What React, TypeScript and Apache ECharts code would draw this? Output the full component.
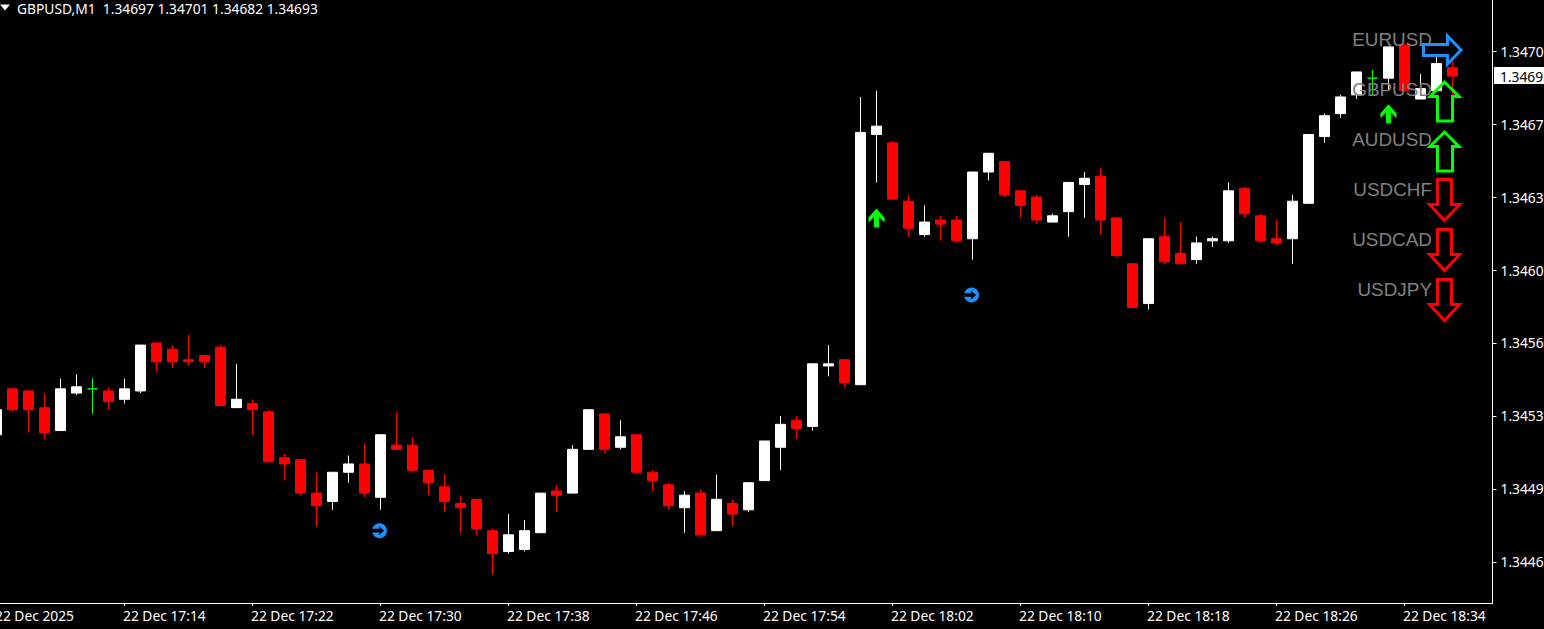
import React, { useEffect, useRef } from "react";
import * as echarts from "echarts";

const headerText = "GBPUSD,M1  1.34697 1.34701 1.34682 1.34693";
const currentPriceLabel = "1.3469";

const opens = [1.34521,1.34543,1.34542,1.34534,1.34523,1.34541,1.34543,1.34542,1.34538,1.34542,1.34565,1.34562,1.34557,1.34559,1.34563,1.34534,1.34536,1.34532,1.34510,1.34509,1.34493,1.34489,1.34503,1.34507,1.34491,1.34516,1.34516,1.34504,1.34496,1.34488,1.34490,1.34475,1.34465,1.34466,1.34474,1.34494,1.34493,1.34514,1.34531,1.34515,1.34521,1.34503,1.34497,1.34486,1.34493,1.34475,1.34488,1.34485,1.34499,1.34515,1.34528,1.34525,1.34554,1.34557,1.34545,1.34665,1.34661,1.34633,1.34617,1.34624,1.34624,1.34615,1.34647,1.34652,1.34638,1.34635,1.34623,1.34628,1.34641,1.34645,1.34625,1.34603,1.34584,1.34616,1.34608,1.34605,1.34614,1.34614,1.34639,1.34626,1.34615,1.34615,1.34632,1.34664,1.34675,1.34684,1.34692,1.34692,1.34708,1.34682,1.34686,1.34697];
const highs = [1.34533,1.34543,1.34542,1.34541,1.34548,1.34550,1.34548,1.34544,1.34548,1.34564,1.34565,1.34564,1.34569,1.34559,1.34564,1.34555,1.34538,1.34533,1.34512,1.34509,1.34503,1.34503,1.34511,1.34517,1.34521,1.34532,1.34520,1.34504,1.34502,1.34492,1.34490,1.34476,1.34483,1.34480,1.34493,1.34497,1.34516,1.34533,1.34531,1.34528,1.34521,1.34504,1.34498,1.34494,1.34495,1.34502,1.34490,1.34498,1.34518,1.34530,1.34530,1.34555,1.34564,1.34557,1.34683,1.34686,1.34662,1.34636,1.34631,1.34626,1.34626,1.34647,1.34656,1.34652,1.34638,1.34636,1.34627,1.34642,1.34647,1.34649,1.34625,1.34603,1.34615,1.34625,1.34623,1.34616,1.34616,1.34642,1.34640,1.34627,1.34624,1.34636,1.34665,1.34675,1.34684,1.34695,1.34696,1.34707,1.34708,1.34694,1.34703,1.34701];
const lows = [1.34521,1.34532,1.34522,1.34519,1.34523,1.34540,1.34531,1.34533,1.34536,1.34541,1.34551,1.34553,1.34554,1.34553,1.34535,1.34534,1.34521,1.34508,1.34499,1.34492,1.34477,1.34485,1.34498,1.34491,1.34485,1.34514,1.34503,1.34492,1.34484,1.34474,1.34473,1.34454,1.34464,1.34465,1.34474,1.34484,1.34493,1.34514,1.34512,1.34514,1.34502,1.34494,1.34485,1.34474,1.34472,1.34475,1.34477,1.34484,1.34499,1.34504,1.34519,1.34523,1.34549,1.34544,1.34545,1.34642,1.34634,1.34616,1.34616,1.34614,1.34613,1.34605,1.34643,1.34635,1.34625,1.34622,1.34623,1.34616,1.34625,1.34617,1.34606,1.34582,1.34581,1.34603,1.34603,1.34603,1.34611,1.34613,1.34625,1.34613,1.34612,1.34603,1.34632,1.34661,1.34673,1.34682,1.34684,1.34686,1.34686,1.34682,1.34686,1.34682];
const closes = [1.34533,1.34533,1.34533,1.34522,1.34543,1.34544,1.34543,1.34537,1.34543,1.34564,1.34556,1.34556,1.34556,1.34556,1.34535,1.34538,1.34533,1.34508,1.34507,1.34493,1.34487,1.34503,1.34507,1.34493,1.34521,1.34514,1.34504,1.34498,1.34489,1.34486,1.34476,1.34464,1.34473,1.34475,1.34493,1.34492,1.34514,1.34533,1.34514,1.34520,1.34503,1.34499,1.34487,1.34492,1.34473,1.34490,1.34483,1.34498,1.34518,1.34526,1.34524,1.34555,1.34555,1.34546,1.34666,1.34669,1.34634,1.34620,1.34623,1.34622,1.34614,1.34647,1.34656,1.34636,1.34631,1.34624,1.34626,1.34642,1.34644,1.34624,1.34607,1.34582,1.34615,1.34604,1.34603,1.34613,1.34615,1.34638,1.34627,1.34614,1.34613,1.34633,1.34665,1.34674,1.34683,1.34695,1.34692,1.34707,1.34686,1.34687,1.34699,1.34693];

const categories: string[] = ["22 Dec 2025"];
for (let m = 17 * 60 + 7; categories.length < 94; m++) {
  const h = Math.floor(m / 60);
  const mm = m % 60;
  categories.push(`22 Dec ${h}:${mm < 10 ? "0" : ""}${mm}`);
}

const yTickValues = [1.34705, 1.3467, 1.34635, 1.346, 1.34565, 1.3453, 1.34495, 1.3446];
const yTickLabels = ["1.3470", "1.3467", "1.3463", "1.3460", "1.3456", "1.3453", "1.3449", "1.3446"];
const yMin = 1.344403;
const yMax = 1.347295;

const upSignals = [[55, 1.34625], [87, 1.34675]];
const circleSignals = [[24, 1.34475], [61, 1.34588]];

const symbols = ["EURUSD", "GBPUSD", "AUDUSD", "USDCHF", "USDCAD", "USDJPY"];
const directions = ["right", "up", "up", "down", "down", "down"];

const AXIS_FONT = "Noto Sans";
const AXIS_SIZE = 13.8;

function arrowPoints(dir: string, row: number): number[][] {
  const dy = row * 50;
  if (dir === "right")
    return [[1423.5, 44.5 + dy], [1447.5, 44.5 + dy], [1447.5, 36 + dy], [1461, 50 + dy], [1447.5, 64 + dy], [1447.5, 55.5 + dy], [1423.5, 55.5 + dy]];
  if (dir === "up")
    return [[1444.5, 32 + dy], [1459, 46.5 + dy], [1452.5, 46.5 + dy], [1452.5, 71 + dy], [1437.5, 71 + dy], [1437.5, 46.5 + dy], [1430, 46.5 + dy]];
  return [[1437.5, 29.5 + dy], [1451.5, 29.5 + dy], [1451.5, 54.5 + dy], [1459.5, 54.5 + dy], [1444.5, 70.5 + dy], [1429.5, 54.5 + dy], [1437.5, 54.5 + dy]];
}

const arrowColor: Record<string, string> = { right: "#1e90ff", up: "#00ff00", down: "#ff0000" };

export default function App() {
  const ref = useRef<HTMLDivElement>(null);
  useEffect(() => {
    document.body.style.margin = "0";
    document.body.style.background = "#000";
    const chart = echarts.init(ref.current!, null, { renderer: "svg" });
    const graphicEls: any[] = [];
    graphicEls.push({ type: "polygon", z: 100, shape: { points: [[0, 4.5], [10, 4.5], [5, 10.5]] }, style: { fill: "#fff" } });
    graphicEls.push({ type: "text", z: 100, x: 17, y: 8, style: { text: headerText, fill: "#fff", font: `${AXIS_SIZE}px "${AXIS_FONT}"`, textVerticalAlign: "middle" } });
    symbols.forEach((s, i) => {
      graphicEls.push({
        type: "text", z: 100, x: 1432, y: 39.5 + i * 50,
        style: { text: s, fill: "#808080", font: '18.9px "Liberation Sans"', textAlign: "right", textVerticalAlign: "middle" },
      });
      const dir = directions[i];
      graphicEls.push({
        type: "polygon", z: 101,
        shape: { points: arrowPoints(dir, i) },
        style: { fill: "none", stroke: arrowColor[dir], lineWidth: 3, lineJoin: "miter" },
      });
    });
    chart.setOption({
      animation: false,
      backgroundColor: "#000",
      grid: { left: -11.5, top: 0, width: 1504, height: 603, outerBoundsMode: "none" },
      xAxis: {
        type: "category",
        data: categories,
        boundaryGap: true,
        axisLine: { show: true, lineStyle: { color: "#fff", width: 1 } },
        axisTick: { show: true, alignWithLabel: true, interval: 7, length: 3, lineStyle: { color: "#fff" } },
        axisLabel: { interval: 7, align: "left", color: "#fff", fontFamily: AXIS_FONT, fontSize: AXIS_SIZE, margin: 5, padding: [0, 0, 0, -1.5], hideOverlap: false, showMinLabel: true },
        splitLine: { show: false },
      },
      yAxis: {
        type: "value",
        position: "right",
        min: yMin,
        max: yMax,
        axisLine: { show: true, onZero: false, lineStyle: { color: "#fff", width: 1 } },
        axisTick: { show: true, length: 4, customValues: yTickValues, lineStyle: { color: "#fff" } },
        axisLabel: {
          customValues: yTickValues,
          color: "#fff",
          fontFamily: AXIS_FONT,
          fontSize: AXIS_SIZE,
          margin: 8,
          showMinLabel: true,
          showMaxLabel: true,
          formatter: (v: number) => {
            const i = yTickValues.findIndex((t) => Math.abs(t - v) < 1e-7);
            return i >= 0 ? yTickLabels[i] : "";
          },
        },
        splitLine: { show: false },
      },
      series: [
        {
          type: "candlestick",
          barWidth: 10,
          clip: true,
          data: opens.map((o, i) => [o, closes[i], lows[i], highs[i]]),
          itemStyle: {
            color: "#ffffff", color0: "#ff0000",
            borderColor: "#ffffff", borderColor0: "#ff0000",
            borderColorDoji: "#00ff00", borderWidth: 1,
          },
        },
        {
          type: "scatter",
          data: upSignals,
          symbol: "path://M8 0L16 9V14L10.5 8.5V19H5.5V8.5L0 14V9Z",
          symbolSize: [16, 19],
          itemStyle: { color: "#00ff00", opacity: 1 },
          z: 5,
        },
        {
          type: "scatter",
          data: circleSignals,
          symbol: "circle",
          symbolSize: 15,
          symbolOffset: [-1, 0],
          itemStyle: { color: "#1e90ff", opacity: 1 },
          z: 5,
        },
        {
          type: "scatter",
          data: circleSignals,
          symbol: "path://M0 5H8V2L13 7L8 12V9H0Z",
          symbolSize: [13, 9],
          symbolOffset: [-3, 0],
          itemStyle: { color: "#000", opacity: 1 },
          z: 6,
        },
        {
          type: "custom",
          data: [[opens.length - 1, closes[closes.length - 1]]],
          clip: false,
          z: 20,
          renderItem: (_p: any, api: any) => {
            const pt = api.coord([api.value(0), api.value(1)]);
            return {
              type: "group",
              children: [
                { type: "rect", shape: { x: 1494, y: pt[1] - 9, width: 50, height: 17 }, style: { fill: "#fff" } },
                { type: "text", x: 1500, y: pt[1], style: { text: currentPriceLabel, fill: "#000", font: `${AXIS_SIZE}px "${AXIS_FONT}"`, textVerticalAlign: "middle" } },
              ],
            };
          },
        },
      ],
      graphic: { elements: graphicEls },
    });
    return () => chart.dispose();
  }, []);
  return <div ref={ref} style={{ width: 1544, height: 629, overflow: "hidden" }} />;
}
